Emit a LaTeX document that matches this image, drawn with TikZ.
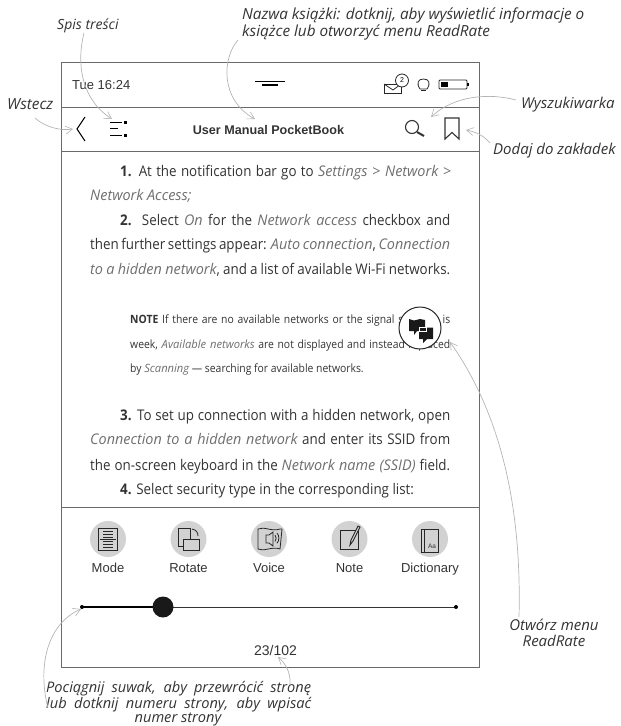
\documentclass[tikz,border=0pt]{standalone}
\usepackage{fontspec}
\usetikzlibrary{arrows.meta}
\setmainfont{Open Sans}
\newfontfamily\bodyf[FakeStretch=0.91]{Open Sans}
\newfontfamily\softf[FakeStretch=0.98]{Open Sans}
\newfontfamily\uif{Liberation Sans}
\newfontfamily\capf{Open Sans}
\definecolor{frame}{HTML}{6A6A6A}
\definecolor{ink}{HTML}{333333}
\definecolor{soft}{HTML}{6E6E6E}
\definecolor{leader}{HTML}{B4B4B4}
\definecolor{iconbg}{HTML}{D2D2D2}
\newcommand{\soft}[1]{{\color{soft}\softf\itshape #1}}
\tikzset{
 x=1pt,y=-1pt,
 framel/.style={draw=frame,line width=1pt},
 leaderl/.style={draw=leader,line width=.7pt,-{Straight Barb[length=7pt,width=8pt,line width=.6pt]}},
 capt/.style={inner sep=0,text=ink,font=\capf\itshape\fontsize{15.3}{17}\selectfont,anchor=base west},
 capc/.style={inner sep=0,text=ink,font=\capf\itshape\fontsize{15}{17}\selectfont,anchor=base,align=center},
 bodyt/.style={inner sep=0,text=ink,font=\bodyf\fontsize{14.7}{17}\selectfont,anchor=base west},
 notet/.style={inner sep=0,text=ink,font=\bodyf\fontsize{11.4}{12}\selectfont,anchor=base west},
 uit/.style={inner sep=0,text=ink,font=\uif\fontsize{13}{15}\selectfont,anchor=base},
 iconc/.style={circle,fill=iconbg,minimum size=36pt,inner sep=0},
 icl/.style={draw=black!85,line width=.8pt},
}
\begin{document}
\begin{tikzpicture}
\useasboundingbox (0,0) rectangle (621,726);
% frame
\draw[framel] (61,62) rectangle (479.5,667);
\draw[framel] (61,107) -- (479.5,107);
\draw[framel] (61,151) -- (479.5,151);
\draw[framel] (61,507) -- (479.5,507);
% status bar
\node[uit,anchor=base west] (clock) at (72,89) {Tue 16:24};
\draw[black,line width=1.1pt] (255,81.5) -- (285,81.5);
\draw[black,line width=1.1pt] (262,85) -- (278,85);
\draw[icl] (384,84) rectangle (401,93);
\draw[icl] (384,84) -- (393,90) -- (401,84);
\draw[icl,fill=white] (402,80.5) circle (6.5);
\node[inner sep=0,font=\uif\fontsize{7}{8}\selectfont] (mailn) at (402,80.5) {2};
\draw[icl] (420,89) .. controls (416,83) and (418,79) .. (423.5,79) .. controls (429,79) and (431,83) .. (427,89) -- cycle;
\draw[icl] (421,90) -- (426,90);
\draw[icl,rounded corners=1pt] (439,80) rectangle (467,89);
\fill[black] (441,82) rectangle (448,87);
\fill[black] (467,83) rectangle (469,86);
% toolbar
\draw[black,line width=1.1pt] (85,117) -- (77,129) -- (85,141);
\coordinate (back) at (73,129);
\foreach \yy/\xx in {122/122,128/118,135.5/122}{\draw[black,line width=1pt] (110,\yy) -- (\xx,\yy);}
\fill[black] (124,121) rectangle (126.5,123.5);
\fill[black] (124,134) rectangle (126.5,136.5);
\coordinate (toc) at (112,119);
\node[uit,font=\uif\bfseries\fontsize{12.6}{15}\selectfont] (title) at (268.5,134) {User Manual PocketBook};
\coordinate (titletop) at (255,119);
\draw[ink,line width=1.1pt] (412,127) circle (6.5);
\draw[ink,line width=2pt] (417,132) -- (424,136);
\coordinate (srch) at (431,117);
\draw[ink,line width=1.1pt] (445,118) -- (459,118) -- (459,139) -- (452,132.5) -- (445,139) -- cycle;
\coordinate (mark) at (466,130);
% body
\node[bodyt] (l1) at (120,176) {\makebox[331pt][s]{\textbf{1.} At the notification bar go to \soft{Settings > Network >}}};
\node[bodyt] (l2) at (90,200) {\soft{Network Access;}};
\node[bodyt] (l3) at (120,225) {\makebox[330pt][s]{\textbf{2.} Select \soft{On} for the \soft{Network access} checkbox and}};
\node[bodyt] (l4) at (90,249) {\makebox[360pt][s]{then further settings appear: \soft{Auto connection}, \soft{Connection}}};
\node[bodyt] (l5) at (90,274) {\makebox[360pt][s]{\soft{to a hidden network}, and a list of available Wi-Fi networks.}};
\node[notet] (n1) at (130,323) {\makebox[320pt][s]{\textbf{NOTE} If there are no available networks or the signal strength is}};
\node[notet] (n2) at (130,348) {\makebox[320pt][s]{week, \soft{Available networks} are not displayed and instead replaced}};
\node[notet] (n3) at (130,372) {by \soft{Scanning} — searching for available networks.};
\node[bodyt] (l6) at (120,420) {\makebox[330pt][s]{\textbf{3.} To set up connection with a hidden network, open}};
\node[bodyt] (l7) at (90,444) {\makebox[360pt][s]{\soft{Connection to a hidden network} and enter its SSID from}};
\node[bodyt] (l8) at (90,470) {\makebox[360pt][s]{the on-screen keyboard in the \soft{Network name (SSID)} field.}};
\node[bodyt] (l9) at (120,494) {\textbf{4.} Select security type in the corresponding list:};
% readrate button
\node[circle,draw=black!85,line width=1pt,fill=white,minimum size=42pt,inner sep=0] (rr) at (420,328) {};
\fill[black!90] (409,319) -- (414,320.5) -- (420,319) -- (425,320) -- (425,331) -- (417,331) -- (414,335) -- (414,331) -- (409,331) -- cycle;
\fill[black!90] (419,327.5) -- (433,327.5) -- (433,339) -- (427,339) -- (423,343) -- (423,339) -- (419,339) -- cycle;
\draw[white,line width=.7pt] (419,327.5) -- (426,327.5) -- (426,331.5) -- (419,331.5) -- cycle;
\coordinate (rrpt) at (450,342);
% tool icons
\node[iconc] (i1) at (108,539) {};
\node[iconc] (i2) at (188.5,539) {};
\node[iconc] (i3) at (269,539) {};
\node[iconc] (i4) at (349.5,539) {};
\node[iconc] (i5) at (430,539) {};
\node[uit] (t1) at (108,572) {Mode};
\node[uit] (t2) at (188.5,572) {Rotate};
\node[uit] (t3) at (269,572) {Voice};
\node[uit] (t4) at (349.5,572) {Note};
\node[uit] (t5) at (430,572) {Dictionary};
% mode
\draw[icl] (98.5,528) rectangle (117.5,550);
\foreach \yy in {531,534,537,541,544,547}{\draw[black!85,line width=.7pt] (103,\yy) -- (113,\yy);}
\draw[black!85,line width=.7pt] (100,539) -- (116,539);
% rotate
\draw[icl] (178,528) rectangle (190,546);
\draw[icl,fill=iconbg] (183,539) rectangle (199,550);
\draw[icl] (192,529) .. controls (196,530) and (198,532) .. (198,536);
% voice
\draw[icl] (258,529) .. controls (264,526) and (272,532) .. (280,529) -- (282,529) -- (280,549) .. controls (272,546) and (264,552) .. (258,549) -- cycle;
\draw[icl] (266,535) -- (269,535) -- (273,532) -- (273,546) -- (269,543) -- (266,543) -- cycle;
\draw[icl] (275,535) arc (-40:40:5);
\draw[icl] (277,533) arc (-40:40:8);
% note
\draw[icl] (340,530) rectangle (358,549);
\draw[black!85,fill=iconbg,line width=.9pt] (350,545) -- (351,540) -- (358,526) -- (360,527) -- (353,541) -- cycle;
% dictionary
\draw[icl] (421,529) rectangle (438,552);
\draw[icl] (424,529) -- (424,552);
\draw[icl] (421,529) rectangle (424,552);
\node[inner sep=0,text=ink,font=\uif\fontsize{6.5}{7}\selectfont] (aa) at (432,546) {Aa};
% slider
\draw[ink,line width=.9pt] (82,607) -- (456,607);
\draw[black,line width=1.8pt] (82,607) -- (163,607);
\fill[black] (82,607) circle (2);
\fill[black] (456,607) circle (2);
\node[circle,fill=black!90,minimum size=21pt,inner sep=0] (knob) at (163,607) {};
\coordinate (sl) at (81,609);
\node[uit,font=\uif\fontsize{14}{15}\selectfont] (page) at (275.5,655) {23/102};
\coordinate (pg) at (278,657);
% captions
\node[capt] (cname) at (242,19) {Nazwa książki: dotknij, aby wyświetlić informacje o};
\node[capt] (cname2) at (242,36) {książce lub otworzyć menu ReadRate};
\node[capt,font=\capf\itshape\fontsize{14}{15}\selectfont] (cspis) at (57,29) {Spis treści};
\node[capt] (cback) at (7,109) {Wstecz};
\node[capt,font=\capf\itshape\fontsize{15}{17}\selectfont] (csrch) at (521,108) {Wyszukiwarka};
\node[capt,font=\capf\itshape\fontsize{15}{17}\selectfont] (cmark) at (493,154) {Dodaj do zakładek};
\node[capc] (crr) at (554,630) {Otwórz menu};
\node[capc] (crr2) at (554,646) {ReadRate};
\node[capt,font=\capf\itshape\fontsize{14.6}{17}\selectfont] (cs1) at (46,692) {\makebox[265pt][s]{Pociągnij suwak, aby przewrócić stronę}};
\node[capt,font=\capf\itshape\fontsize{14.6}{17}\selectfont] (cs2) at (46,708) {\makebox[265pt][s]{lub dotknij numeru strony, aby wpisać}};
\node[capc,font=\capf\itshape\fontsize{14.6}{15}\selectfont] (cs3) at (178,722) {numer strony};
% leaders
\coordinate (a0) at (84,33);
\draw[leaderl] (a0) .. controls (76,65) and (82,100) .. (toc);
\coordinate (b0) at (35,118);
\draw[leaderl] (b0) .. controls (45,127) and (60,131) .. (back);
\coordinate (c0) at (238,40);
\draw[leaderl] (c0) .. controls (222,58) and (220,100) .. (titletop);
\coordinate (d0) at (516,100);
\draw[leaderl] (d0) .. controls (490,93) and (455,95) .. (srch);
\coordinate (e0) at (490,143);
\draw[leaderl] (e0) .. controls (483,135) and (476,132) .. (mark);
\coordinate (f0) at (519,617);
\draw[leaderl] (f0) .. controls (522,500) and (498,410) .. (rrpt);
\coordinate (g0) at (48,708);
\draw[leaderl] (g0) .. controls (38,670) and (45,625) .. (sl);
\coordinate (h0) at (290,685);
\draw[leaderl] (h0) .. controls (291,672) and (285,663) .. (pg);
\end{tikzpicture}
\end{document}
